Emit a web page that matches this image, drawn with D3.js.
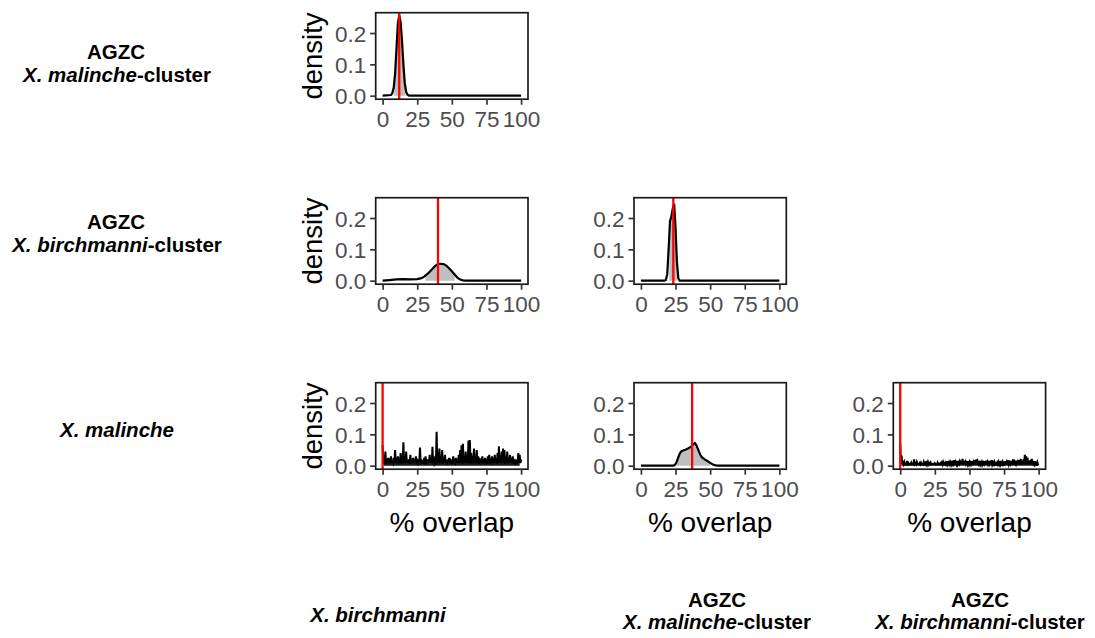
<!DOCTYPE html>
<html><head><meta charset="utf-8">
<script src="https://cdn.jsdelivr.net/npm/d3@7"></script>
<style>
body{margin:0;background:#fff;}
svg{display:block;font-family:"Liberation Sans",Arial,Helvetica,sans-serif;}
</style>
</head><body>
<svg id="chart" width="1095" height="638"></svg>
<script>
// ---------------- data ----------------
const xTicks = [0, 25, 50, 75, 100];
const yTicks = [0, 0.1, 0.2];
const yTickLabels = ["0.0", "0.1", "0.2"];
const xTitle = "% overlap";
const yTitle = "density";

// row labels (left side)
const rowLine1 = ["AGZC", "AGZC", ""];
const rowItalic = ["X. malinche", "X. birchmanni", "X. malinche"];
const rowSuffix = ["-cluster", "-cluster", ""];

// column labels (bottom)
const colLine1 = ["", "AGZC", "AGZC"];
const colItalic = ["X. birchmanni", "X. malinche", "X. birchmanni"];
const colSuffix = ["", "-cluster", "-cluster"];

// panel r0c0 : AGZC X. malinche-cluster vs X. birchmanni
const p00X = [0, 6, 7, 8, 9, 10, 11, 12, 13, 14, 15, 16, 17, 18, 19, 100];
const p00Y = [0, 0.002, 0.008, 0.025, 0.07, 0.15, 0.23, 0.257, 0.235, 0.175, 0.1, 0.04, 0.012, 0.003, 0, 0];
const p00Obs = 12;
const p00Band = [8.5, 16.5];

// panel r1c0 : AGZC X. birchmanni-cluster vs X. birchmanni
const p10X = [0, 5, 10, 15, 20, 25, 28, 30, 33, 35, 38, 40, 42, 44, 46, 48, 50, 52, 54, 56, 58, 60, 100];
const p10Y = [0, 0.002, 0.004, 0.005, 0.004, 0.005, 0.008, 0.013, 0.024, 0.033, 0.047, 0.053, 0.054, 0.053, 0.048, 0.04, 0.03, 0.02, 0.01, 0.004, 0.001, 0, 0];
const p10Obs = 40;
const p10Band = [31, 52];

// panel r1c1 : AGZC X. birchmanni-cluster vs AGZC X. malinche-cluster
const p11X = [0, 17, 18, 19, 20, 21, 22, 23, 24, 25, 26, 27, 28, 100];
const p11Y = [0, 0, 0.002, 0.02, 0.1, 0.19, 0.205, 0.23, 0.245, 0.17, 0.06, 0.008, 0, 0];
const p11Obs = 23.4;
const p11Band = [20.5, 26];

// panel r2c0 : X. malinche vs X. birchmanni (peaks at integer %, troughs between)
const p20Peak = [0.065,0.01,0.045,0.02,0.025,0.015,0.03,0.01,0.025,0.05,0.02,0.03,0.015,0.04,0.02,0.075,0.03,0.045,0.015,0.02,
                 0.035,0.01,0.025,0.02,0.03,0.015,0.02,0.058,0.02,0.01,0.025,0.03,0.015,0.02,0.035,0.02,0.06,0.03,0.01,0.108,
                 0.02,0.055,0.03,0.05,0.02,0.035,0.01,0.02,0.025,0.015,0.02,0.03,0.015,0.025,0.02,0.035,0.05,0.065,0.07,0.03,
                 0.045,0.02,0.08,0.082,0.04,0.03,0.055,0.02,0.05,0.03,0.025,0.02,0.03,0.015,0.025,0.02,0.03,0.035,0.015,0.03,
                 0.025,0.035,0.02,0.04,0.062,0.03,0.045,0.055,0.05,0.03,0.045,0.02,0.035,0.025,0.03,0.015,0.02,0.01,0.04,0.035,0.02];
const p20Trough = [0.008,0.01,0.006,0.012,0.009,0.007,0.011,0.006,0.01,0.009,0.012,0.008,0.01,0.006,0.011,0.009,0.008,0.01,0.012,0.006,
                   0.009,0.011,0.008,0.01,0.006,0.009,0.012,0.008,0.01,0.009,0.006,0.011,0.008,0.01,0.009,0.012,0.008,0.006,0.01,0.009,
                   0.011,0.008,0.01,0.006,0.009,0.012,0.008,0.01,0.009,0.006,0.011,0.008,0.01,0.009,0.012,0.008,0.01,0.006,0.009,0.011,
                   0.008,0.01,0.009,0.006,0.012,0.008,0.01,0.009,0.011,0.006,0.009,0.01,0.008,0.012,0.009,0.006,0.01,0.008,0.011,0.009,
                   0.008,0.01,0.006,0.012,0.009,0.008,0.011,0.01,0.006,0.009,0.01,0.008,0.012,0.009,0.006,0.01,0.008,0.011,0.009,0.008];
const p20Obs = 0;
const p20Band = [1, 99];

// panel r2c1 : X. malinche vs AGZC X. malinche-cluster
const p21X = [0, 23, 24, 25, 26, 27, 28, 29, 30, 32, 34, 36, 37, 38, 39, 40, 41, 42, 43, 44, 46, 48, 50, 52, 54, 56, 100];
const p21Y = [0, 0, 0.001, 0.005, 0.014, 0.027, 0.038, 0.045, 0.048, 0.051, 0.055, 0.06, 0.064, 0.069, 0.072, 0.066, 0.055, 0.044, 0.034, 0.027, 0.02, 0.015, 0.009, 0.004, 0.001, 0, 0];
const p21Obs = 37;
const p21Band = [26, 50];

// panel r2c2 : X. malinche vs AGZC X. birchmanni-cluster
const p22Peak = [0.07,0.032,0.01,0.012,0.006,0.015,0.008,0.005,0.01,0.006,0.02,0.008,0.012,0.005,0.008,0.01,0.006,0.012,0.008,0.015,
                 0.012,0.008,0.01,0.005,0.006,0.008,0.004,0.01,0.006,0.008,0.01,0.012,0.008,0.01,0.014,0.01,0.012,0.015,0.01,0.018,
                 0.012,0.015,0.01,0.013,0.016,0.022,0.015,0.012,0.01,0.014,0.012,0.01,0.015,0.012,0.018,0.02,0.013,0.01,0.015,0.012,
                 0.01,0.014,0.016,0.012,0.01,0.015,0.018,0.01,0.012,0.008,0.01,0.012,0.015,0.01,0.012,0.008,0.014,0.012,0.018,0.01,
                 0.015,0.012,0.02,0.01,0.016,0.012,0.018,0.022,0.015,0.02,0.035,0.03,0.025,0.015,0.018,0.022,0.01,0.014,0.008,0.012,0.006];
const p22Trough = [0.006,0.005,0.004,0.005,0.004,0.005,0.004,0.004,0.005,0.004,0.005,0.004,0.005,0.004,0.004,0.005,0.004,0.005,0.004,0.005,
                   0.004,0.005,0.004,0.004,0.005,0.004,0.004,0.005,0.004,0.005,0.004,0.005,0.004,0.005,0.004,0.005,0.005,0.004,0.005,0.004,
                   0.005,0.004,0.005,0.004,0.005,0.005,0.004,0.005,0.004,0.005,0.004,0.005,0.004,0.005,0.005,0.004,0.005,0.004,0.005,0.004,
                   0.005,0.004,0.005,0.004,0.005,0.005,0.004,0.005,0.004,0.005,0.004,0.005,0.004,0.005,0.004,0.005,0.004,0.005,0.004,0.005,
                   0.004,0.005,0.004,0.005,0.004,0.005,0.005,0.004,0.005,0.006,0.005,0.005,0.004,0.005,0.005,0.004,0.005,0.004,0.005,0.004];
const p22Obs = 0;
const p22Band = [1, 99];

// ---------------- helpers ----------------
function zipXY(xs, ys) { return xs.map((x, i) => ({x: x, y: ys[i]})); }
function interleave(peaks, troughs) {
  const out = [];
  peaks.forEach((p, i) => {
    out.push({x: i, y: p});
    if (i < troughs.length) out.push({x: i + 0.5, y: troughs[i]});
  });
  return out;
}

const panels = [
  {row: 0, col: 0, pts: zipXY(p00X, p00Y), obs: p00Obs, band: p00Band, lw: 2.2, spiky: false},
  {row: 1, col: 0, pts: zipXY(p10X, p10Y), obs: p10Obs, band: p10Band, lw: 2.2, spiky: false},
  {row: 1, col: 1, pts: zipXY(p11X, p11Y), obs: p11Obs, band: p11Band, lw: 2.2, spiky: false},
  {row: 2, col: 0, pts: interleave(p20Peak, p20Trough), obs: p20Obs, band: p20Band, lw: 2, spiky: true},
  {row: 2, col: 1, pts: zipXY(p21X, p21Y), obs: p21Obs, band: p21Band, lw: 2.2, spiky: false},
  {row: 2, col: 2, pts: interleave(p22Peak, p22Trough), obs: p22Obs, band: p22Band, lw: 2, spiky: true}
];

// ---------------- layout ----------------
const colLeft = [375.7, 634, 893.3];
const rowTop = [12.7, 197.7, 382.7];
const panelW = 152.3, panelH = 86.5;

const svg = d3.select("#chart");
const TICK_COLOR = "#4D4D4D";

panels.forEach((p, i) => {
  const x0 = colLeft[p.col], y0 = rowTop[p.row];
  const g = svg.append("g").attr("transform", `translate(${x0},${y0})`);
  const xs = d3.scaleLinear().domain([-5, 105]).range([0, panelW]);
  const ys = d3.scaleLinear().domain([-0.0112, 0.2648]).range([panelH, 0]);

  const cid = "band" + i;
  g.append("clipPath").attr("id", cid).append("rect")
    .attr("x", xs(p.band[0])).attr("y", 0)
    .attr("width", xs(p.band[1]) - xs(p.band[0])).attr("height", panelH);

  const area = d3.area().x(d => xs(d.x)).y0(ys(0)).y1(d => ys(d.y));
  g.append("path").datum(p.pts).attr("d", area)
    .attr("fill", p.spiky ? "#1a1a1a" : "#BEBEBE").attr("clip-path", `url(#${cid})`);

  const line = d3.line().x(d => xs(d.x)).y(d => ys(d.y));
  g.append("path").datum(p.pts).attr("d", line)
    .attr("fill", "none").attr("stroke", "#000").attr("stroke-width", p.lw)
    .attr("stroke-linejoin", "miter");

  g.append("line").attr("x1", xs(p.obs)).attr("x2", xs(p.obs))
    .attr("y1", 0).attr("y2", panelH)
    .attr("stroke", "#FF0000").attr("stroke-width", 2.3);

  g.append("rect").attr("x", 0).attr("y", 0).attr("width", panelW).attr("height", panelH)
    .attr("fill", "none").attr("stroke", "#1a1a1a").attr("stroke-width", 1.7);

  const xAxis = d3.axisBottom(xs).tickValues(xTicks).tickSize(5.5).tickPadding(6).tickFormat(d3.format("d"));
  const gx = g.append("g").attr("transform", `translate(0,${panelH})`).call(xAxis);
  const yAxis = d3.axisLeft(ys).tickValues(yTicks).tickSize(5.5).tickPadding(4)
    .tickFormat((d, k) => yTickLabels[k]);
  const gy = g.append("g").call(yAxis);
  [gx, gy].forEach(a => {
    a.select(".domain").remove();
    a.selectAll(".tick line").attr("stroke", "#333").attr("stroke-width", 1.7);
    a.selectAll(".tick text").attr("fill", TICK_COLOR).attr("font-size", 22.5)
      .attr("font-family", '"Liberation Sans", Arial, sans-serif');
  });
  gy.selectAll(".tick text").attr("dy", "0.36em");
  gx.selectAll(".tick text").attr("dy", "0.72em");

  if (p.col === 0) {
    g.append("text").attr("transform", `translate(-54,${panelH / 2}) rotate(-90)`)
      .attr("text-anchor", "middle").attr("font-size", 27.5).attr("fill", "#000").text(yTitle);
  }
  if (p.row === 2) {
    g.append("text").attr("x", panelW / 2).attr("y", panelH + 63)
      .attr("text-anchor", "middle").attr("font-size", 28).attr("fill", "#000").text(xTitle);
  }
});

// ---------------- row / column labels ----------------
function twoPart(x, y, ital, suffix) {
  const t = svg.append("text").attr("x", x).attr("y", y).attr("text-anchor", "middle")
    .attr("font-weight", "bold").attr("font-size", 20.5).attr("fill", "#000");
  t.append("tspan").attr("font-style", "italic").text(ital);
  if (suffix) t.append("tspan").text(suffix);
}
function plain(x, y, txt) {
  svg.append("text").attr("x", x).attr("y", y).attr("text-anchor", "middle")
    .attr("font-weight", "bold").attr("font-size", 20.5).attr("fill", "#000").text(txt);
}

const rowL1Y = [58.5, 228.5, 0];
const rowL2Y = [82, 252, 437];
rowItalic.forEach((it, r) => {
  if (rowLine1[r]) plain(116, rowL1Y[r], rowLine1[r]);
  twoPart(117, rowL2Y[r], it, rowSuffix[r]);
});

const colCX = [378, 717, 980];
colItalic.forEach((it, c) => {
  if (colLine1[c]) plain(colCX[c], 606.5, colLine1[c]);
  twoPart(colCX[c], colLine1[c] ? 629 : 622, it, colSuffix[c]);
});
</script>
</body></html>
